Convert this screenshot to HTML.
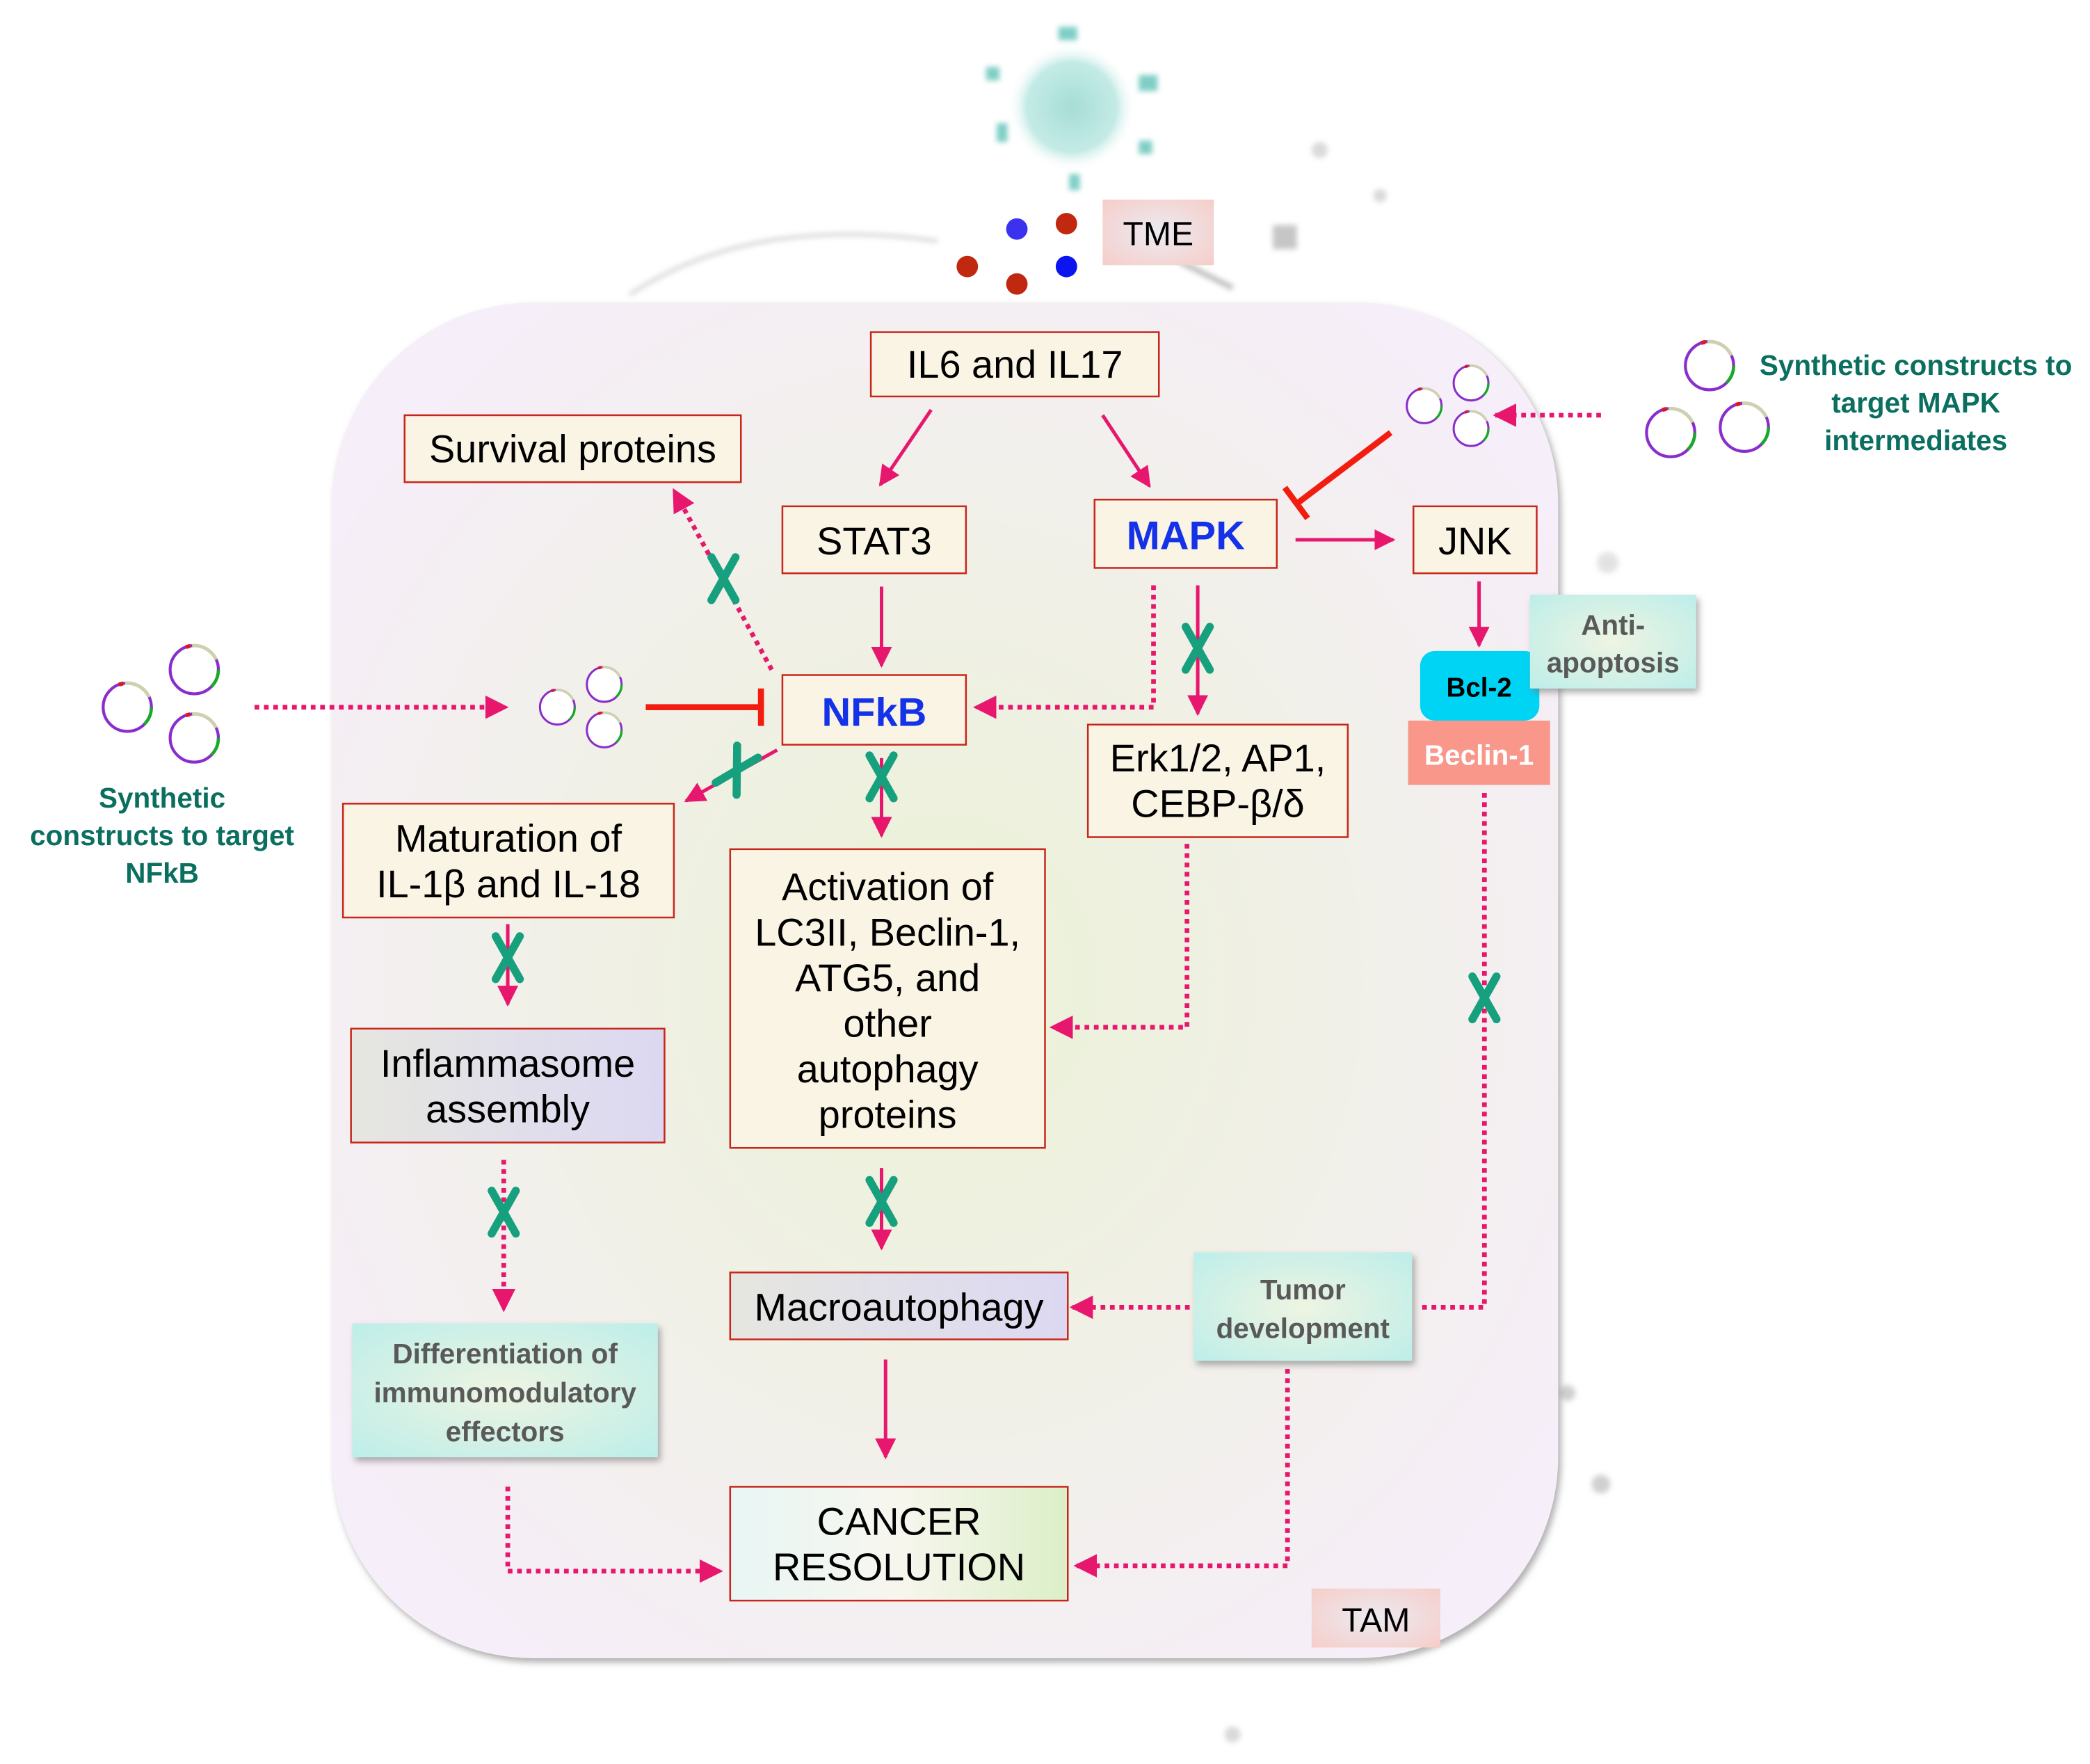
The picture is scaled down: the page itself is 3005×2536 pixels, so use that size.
<!DOCTYPE html>
<html><head><meta charset="utf-8"><style>
html,body{margin:0;padding:0;background:#fff;}
svg{display:block;}
text{font-family:"Liberation Sans",sans-serif;}
</style></head><body>
<svg width="3005" height="2536" viewBox="0 0 1560 1317" preserveAspectRatio="none" xmlns="http://www.w3.org/2000/svg">
<defs>
<radialGradient id="cell" cx="0.5" cy="0.5" r="0.6">
<stop offset="0" stop-color="#eaf2d6"/><stop offset="0.55" stop-color="#f1f0e8"/><stop offset="1" stop-color="#f6eef8"/>
</radialGradient>
<radialGradient id="cyan" cx="0.5" cy="0.5" r="0.7">
<stop offset="0" stop-color="#eef4e2"/><stop offset="1" stop-color="#bdeee9"/>
</radialGradient>
<radialGradient id="pinkb" cx="0.5" cy="0.5" r="0.7">
<stop offset="0" stop-color="#ecebf2"/><stop offset="1" stop-color="#f6cdc8"/>
</radialGradient>
<linearGradient id="infl" x1="0" x2="1"><stop offset="0" stop-color="#e6e6e0"/><stop offset="1" stop-color="#dcd8f2"/></linearGradient>
<linearGradient id="canc" x1="0" x2="1"><stop offset="0" stop-color="#e8f6f4"/><stop offset="0.5" stop-color="#f7f6ee"/><stop offset="1" stop-color="#dcefc8"/></linearGradient>
<radialGradient id="virus" cx="0.5" cy="0.5" r="0.5"><stop offset="0" stop-color="#a6ddd6"/><stop offset="0.7" stop-color="#c4ebe6"/><stop offset="1" stop-color="#ffffff" stop-opacity="0"/></radialGradient>
<filter id="sh" x="-10%" y="-10%" width="130%" height="130%"><feDropShadow dx="2" dy="3" stdDeviation="2.5" flood-color="#777" flood-opacity="0.6"/></filter>
<filter id="blur"><feGaussianBlur stdDeviation="2"/></filter>
<marker id="ah" viewBox="0 0 10 10" refX="9" refY="5" markerWidth="6" markerHeight="6" orient="auto" markerUnits="strokeWidth"><path d="M0,0 L10,5 L0,10 z" fill="#e8176e"/></marker>
<marker id="ahd" viewBox="0 0 10 10" refX="9" refY="5" markerWidth="5" markerHeight="5" orient="auto" markerUnits="strokeWidth"><path d="M0,0 L10,5 L0,10 z" fill="#e8176e"/></marker>
<g id="pl">
<circle r="18" fill="#fff" stroke="#8a2ecb" stroke-width="2.2"/>
<path d="M-1.6,-17.9 A18,18 0 0 1 16.3,-7.6" fill="none" stroke="#cfd0b0" stroke-width="2.6"/>
<path d="M18,0 A18,18 0 0 1 12.7,12.7" fill="none" stroke="#1aa82a" stroke-width="2.4"/>
<path d="M-3.1,-17.7 A18,18 0 0 0 -6.2,-16.9" fill="none" stroke="#e01818" stroke-width="3"/>
</g>
<g id="gx"><path d="M-9,-16 L9,16 M9,-16 L-9,16" stroke="#17a07d" stroke-width="6" stroke-linecap="round"/></g>
</defs>

<g filter="url(#blur)" opacity="0.55">
<path d="M470,220 Q560,160 700,180" stroke="#bbb" stroke-width="3" fill="none"/>
<path d="M880,195 L920,215" stroke="#888" stroke-width="4"/>
<rect x="950" y="168" width="18" height="18" fill="#999"/>
<circle cx="985" cy="112" r="6" fill="#bbb"/>
<circle cx="1030" cy="146" r="5" fill="#bbb"/>
<circle cx="1200" cy="420" r="8" fill="#ccc"/>
<circle cx="1170" cy="1040" r="6" fill="#aaa"/>
<circle cx="1195" cy="1108" r="7" fill="#aaa"/>
<circle cx="920" cy="1295" r="6" fill="#bbb"/>
</g>

<g>
<circle cx="800" cy="80" r="48" fill="url(#virus)"/>
<g fill="#5fc2b8" opacity="0.8" filter="url(#blur)">
<rect x="790" y="20" width="14" height="10"/><rect x="744" y="92" width="8" height="14"/>
<rect x="850" y="56" width="14" height="12"/><rect x="850" y="105" width="10" height="10"/>
<rect x="798" y="130" width="8" height="12"/><rect x="736" y="50" width="10" height="10"/>
</g>
</g>
<circle cx="759" cy="171" r="8" fill="#3a32ee"/>
<circle cx="796" cy="199" r="8" fill="#0c14f0"/>
<circle cx="796" cy="167" r="8" fill="#c0280f"/>
<circle cx="722" cy="199" r="8" fill="#c0280f"/>
<circle cx="759" cy="212" r="8" fill="#c0280f"/>
<rect x="823" y="149" width="83" height="49" fill="url(#pinkb)"/>
<text x="864.5" y="183" font-size="25" text-anchor="middle">TME</text>

<rect x="248" y="226" width="915" height="1012" rx="150" ry="150" fill="url(#cell)" filter="url(#sh)"/>

<g stroke="#c8261b" stroke-width="1.3" fill="#faf4e4">
<rect x="650" y="248" width="215" height="48"/>
<rect x="302" y="310" width="251" height="50"/>
<rect x="584" y="378" width="137" height="50"/>
<rect x="817" y="373" width="136" height="51"/>
<rect x="1055" y="378" width="92" height="50"/>
<rect x="584" y="504" width="137" height="52"/>
<rect x="812" y="541" width="194" height="84"/>
<rect x="256" y="600" width="247" height="85"/>
<rect x="545" y="634" width="235" height="223"/>
<rect x="262" y="768" width="234" height="85" fill="url(#infl)"/>
<rect x="545" y="950" width="252" height="50" fill="url(#infl)"/>
<rect x="545" y="1110" width="252" height="85" fill="url(#canc)"/>
</g>
<g font-size="29" text-anchor="middle" fill="#000">
<text x="757.5" y="282">IL6 and IL17</text>
<text x="427.5" y="345">Survival proteins</text>
<text x="652.5" y="414">STAT3</text>
<text x="1101" y="414">JNK</text>
<text x="909" y="576">Erk1/2, AP1,</text>
<text x="909" y="610">CEBP-β/δ</text>
<text x="379.5" y="636">Maturation of</text>
<text x="379.5" y="670">IL-1β and IL-18</text>
<text x="662.5" y="672">Activation of</text>
<text x="662.5" y="706">LC3II, Beclin-1,</text>
<text x="662.5" y="740">ATG5, and</text>
<text x="662.5" y="774">other</text>
<text x="662.5" y="808">autophagy</text>
<text x="662.5" y="842">proteins</text>
<text x="379" y="804">Inflammasome</text>
<text x="379" y="838">assembly</text>
<text x="671" y="986">Macroautophagy</text>
<text x="671" y="1146">CANCER</text>
<text x="671" y="1180">RESOLUTION</text>
</g>
<g font-size="30" font-weight="bold" fill="#1432e8" text-anchor="middle">
<text x="885" y="410">MAPK</text>
<text x="652.5" y="542">NFkB</text>
</g>

<rect x="1060" y="486" width="89" height="52" rx="11" fill="#00d4f5"/>
<text x="1104" y="520" font-size="20" font-weight="bold" text-anchor="middle">Bcl-2</text>
<rect x="1051" y="538" width="106" height="48" fill="#f8978a"/>
<text x="1104" y="571" font-size="21" font-weight="bold" fill="#fff" text-anchor="middle">Beclin-1</text>
<g filter="url(#sh)">
<rect x="1142" y="444" width="124" height="70" fill="url(#cyan)"/>
<rect x="891" y="935" width="163" height="81" fill="url(#cyan)"/>
<rect x="263" y="988" width="228" height="100" fill="url(#cyan)"/>
</g>
<g font-size="21" font-weight="bold" fill="#595959" text-anchor="middle">
<text x="1204" y="474">Anti-</text>
<text x="1204" y="502">apoptosis</text>
<text x="972.5" y="970">Tumor</text>
<text x="972.5" y="999">development</text>
<text x="377" y="1018">Differentiation of</text>
<text x="377" y="1047">immunomodulatory</text>
<text x="377" y="1076">effectors</text>
</g>
<rect x="979" y="1186" width="96" height="44" fill="url(#pinkb)"/>
<text x="1027" y="1218" font-size="25" text-anchor="middle">TAM</text>

<g font-size="21" font-weight="bold" fill="#0b6f60" text-anchor="middle">
<text x="121" y="603">Synthetic</text>
<text x="121" y="631">constructs to target</text>
<text x="121" y="659">NFkB</text>
<text x="1430" y="280">Synthetic constructs to</text>
<text x="1430" y="308">target MAPK</text>
<text x="1430" y="336">intermediates</text>
</g>

<use href="#pl" transform="translate(95,528)"/>
<use href="#pl" transform="translate(145,500)"/>
<use href="#pl" transform="translate(145,551)"/>
<use href="#pl" transform="translate(1276,273)"/>
<use href="#pl" transform="translate(1247,323)"/>
<use href="#pl" transform="translate(1302,319)"/>
<use href="#pl" transform="translate(416,528) scale(0.72)"/>
<use href="#pl" transform="translate(451,511) scale(0.72)"/>
<use href="#pl" transform="translate(451,545) scale(0.72)"/>
<use href="#pl" transform="translate(1063,303) scale(0.72)"/>
<use href="#pl" transform="translate(1098,286) scale(0.72)"/>
<use href="#pl" transform="translate(1098,320) scale(0.72)"/>

<g stroke="#e8176e" stroke-width="2.6" fill="none" marker-end="url(#ah)">
<path d="M695,306 L657,362"/>
<path d="M823,310 L858,363"/>
<path d="M658,438 L658,497"/>
<path d="M967,403 L1040,403"/>
<path d="M1104,434 L1104,482"/>
<path d="M894,437 L894,533"/>
<path d="M580,560 L512,598"/>
<path d="M658,566 L658,624"/>
<path d="M379,690 L379,750"/>
<path d="M658,872 L658,932"/>
<path d="M661,1015 L661,1088"/>
</g>
<g stroke="#e8176e" stroke-width="3.5" stroke-dasharray="3.5 3.5" fill="none" marker-end="url(#ahd)">
<path d="M1195,310 L1116,310"/>
<path d="M190,528 L378,528"/>
<path d="M576,500 L503,366"/>
<path d="M861,437 L861,528 L728,528"/>
<path d="M376,866 L376,978"/>
<path d="M886,630 L886,767 L785,767"/>
<path d="M888,976 L800,976"/>
<path d="M1108,592 L1108,976 L1058,976" marker-end="none"/>
<path d="M379,1110 L379,1173 L538,1173"/>
<path d="M961,1022 L961,1169 L803,1169"/>
</g>
<g stroke="#f21d10" stroke-width="4.5" fill="none">
<path d="M482,528 L568,528 M568,514 L568,542"/>
<path d="M1038,323 L968,376 M959,364 L976,387"/>
</g>
<use href="#gx" transform="translate(540,432)"/>
<use href="#gx" transform="translate(894,484)"/>
<use href="#gx" transform="translate(550,575) rotate(30)"/>
<use href="#gx" transform="translate(658,580)"/>
<use href="#gx" transform="translate(379,715)"/>
<use href="#gx" transform="translate(376,905)"/>
<use href="#gx" transform="translate(658,897)"/>
<use href="#gx" transform="translate(1108,745)"/>
</svg>
</body></html>
